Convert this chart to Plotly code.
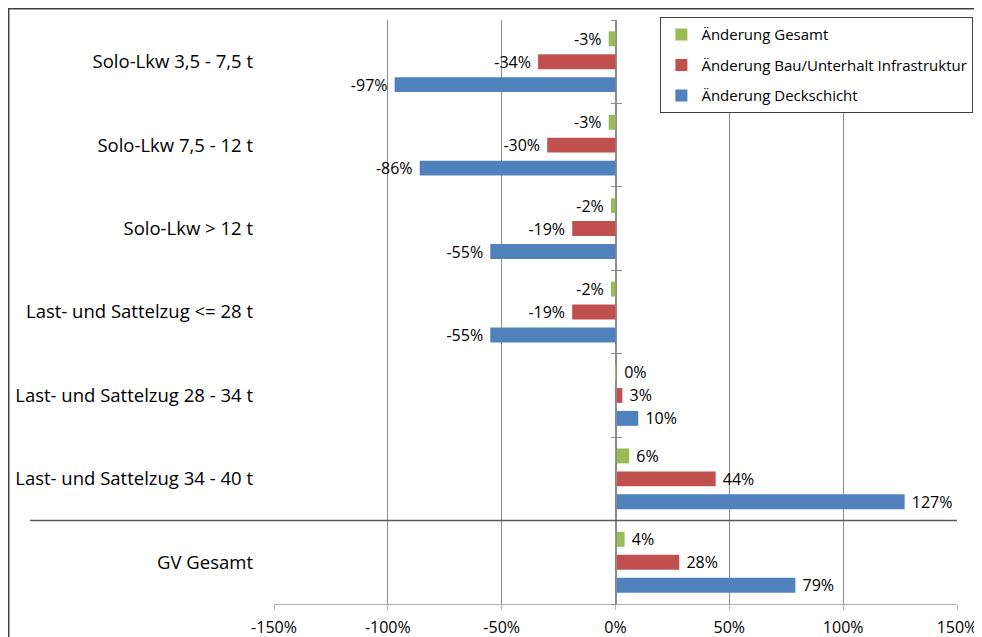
import plotly.graph_objects as go

categories = [
    "Solo-Lkw 3,5 - 7,5 t",
    "Solo-Lkw 7,5 - 12 t",
    "Solo-Lkw > 12 t",
    "Last- und Sattelzug <= 28 t",
    "Last- und Sattelzug 28 - 34 t",
    "Last- und Sattelzug 34 - 40 t",
    "GV Gesamt",
]
series_names = [
    "Änderung Gesamt",
    "Änderung Bau/Unterhalt Infrastruktur",
    "Änderung Deckschicht",
]
gesamt = [-3, -3, -2, -2, 0.3, 6, 4]
bau = [-34, -30, -19, -19, 3, 44, 28]
deck = [-97, -86, -55, -55, 10, 127, 79]
colors = ["#9BBB59", "#C0504D", "#4F81BD"]
tick_vals = [-150, -100, -50, 0, 50, 100, 150]
tick_labels = ["-150%", "-100%", "-50%", "0%", "50%", "100%", "150%"]

FONT = "Open Sans"


def label(v):
    s = f"{v:.0f}%"
    return s + " " if v < 0 else " " + s


fig = go.Figure()
for i, (name, vals, col) in enumerate(zip(series_names, [gesamt, bau, deck], colors)):
    fig.add_trace(go.Bar(
        y=categories, x=vals, name=name, orientation="h",
        legendgroup=f"g{i}",
        marker=dict(color=col, line=dict(width=0)),
        text=[label(v) for v in vals], textposition="outside",
        constraintext="none",
        textfont=dict(family=FONT, size=16, color="#000000"),
        cliponaxis=False, hoverinfo="skip",
    ))

n = len(categories)
bounds = [i - 0.5 for i in range(n + 1)]
# invisible helper traces for the crossing tick axis at x=0
for ax in ["y2", "y3"]:
    fig.add_trace(go.Scatter(x=[0], y=[0], yaxis=ax, mode="markers",
                             marker=dict(opacity=0), showlegend=False,
                             hoverinfo="skip"))

common_y = dict(
    overlaying="y", anchor="free", position=0.5, automargin=False,
    range=[n - 0.5, -0.5], tickmode="array", tickvals=bounds,
    showticklabels=False, showgrid=False, zeroline=False,
    ticklen=5, tickcolor="#8c8c8c", tickwidth=1,
)

fig.update_layout(
    width=974, height=629,
    margin=dict(l=266, r=25, t=12, b=33, autoexpand=False),
    paper_bgcolor="white", plot_bgcolor="white",
    barmode="group", bargap=0.175, bargroupgap=0.35,
    font=dict(family=FONT, color="#000000"),
    showlegend=True,
    legend=dict(
        x=1.024, y=1.0046, xanchor="right", yanchor="top",
        bordercolor="#404040", borderwidth=1, bgcolor="white",
        font=dict(family=FONT, size=15), traceorder="grouped",
        itemwidth=30, tracegroupgap=8,
    ),
    xaxis=dict(
        range=[-150, 150], tickmode="array", tickvals=tick_vals,
        ticktext=tick_labels, showgrid=True, gridcolor="#8c8c8c",
        zeroline=False, showline=True, linecolor="#b3b3b3",
        ticks="outside", ticklen=5, tickcolor="#b3b3b3", automargin=False,
        ticklabelstandoff=4,
        tickfont=dict(family=FONT, size=16), fixedrange=True,
    ),
    yaxis=dict(
        categoryorder="array", categoryarray=categories, automargin=False,
        range=[n - 0.5, -0.5], showgrid=False, zeroline=False,
        showline=False, ticks="", ticklabelstandoff=20,
        tickfont=dict(family=FONT, size=18.5),
    ),
    yaxis2=dict(common_y, ticks="outside", showline=True,
                linecolor="#8c8c8c"),
    yaxis3=dict(common_y, ticks="inside", showline=False),
    shapes=[
        dict(type="line", xref="paper", yref="y", x0=-0.357, x1=1,
             y0=n - 1.5, y1=n - 1.5, line=dict(color="#595959", width=1.5)),
        dict(type="rect", xref="paper", yref="paper", x0=-0.3884, x1=1.2,
             y0=-0.2, y1=1.0193, line=dict(color="#404040", width=1.5),
             fillcolor="rgba(0,0,0,0)", layer="above"),
    ],
)

fig.write_html("out.html")
